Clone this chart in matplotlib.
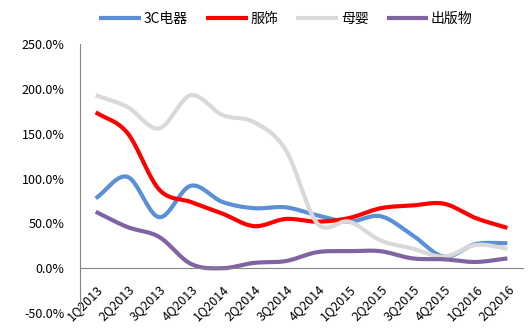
import numpy as np
import matplotlib.pyplot as plt
from matplotlib.ticker import FuncFormatter

plt.rcParams['font.family'] = ['Noto Sans CJK SC', 'DejaVu Sans']

quarters = ['1Q2013', '2Q2013', '3Q2013', '4Q2013', '1Q2014', '2Q2014', '3Q2014',
            '4Q2014', '1Q2015', '2Q2015', '3Q2015', '4Q2015', '1Q2016', '2Q2016']

# growth rates, percent
electronics = [78, 102, 57, 92, 74, 67, 68, 59, 52, 58, 37, 13, 27, 28]
apparel = [174, 151, 88, 74, 61, 47, 55, 52, 56, 67, 70, 72, 56, 45]
baby = [193, 180, 156, 193, 171, 163, 132, 50, 52, 31, 22, 13, 26, 22]
books = [63, 46, 35, 5, 0, 6, 8, 18, 19, 19, 11, 10, 7, 11]

names = ['3C电器', '服饰', '母婴', '出版物']
colors = ['#5B8FD6', '#FF0000', '#D9D9D9', '#8064A2']


def smooth(y, n=20):
    # Catmull-Rom curve through the points, like Excel's smoothed line
    y = np.asarray(y, dtype=float)
    x = np.arange(len(y), dtype=float)
    px = np.concatenate([[2 * x[0] - x[1]], x, [2 * x[-1] - x[-2]]])
    py = np.concatenate([[2 * y[0] - y[1]], y, [2 * y[-1] - y[-2]]])
    xs, ys = [], []
    t = np.linspace(0, 1, n, endpoint=False)
    for i in range(1, len(px) - 2):
        for p, out in ((px, xs), (py, ys)):
            p0, p1, p2, p3 = p[i - 1], p[i], p[i + 1], p[i + 2]
            out.append(0.5 * (2 * p1 + (-p0 + p2) * t
                              + (2 * p0 - 5 * p1 + 4 * p2 - p3) * t ** 2
                              + (-p0 + 3 * p1 - 3 * p2 + p3) * t ** 3))
    xs.append([x[-1]])
    ys.append([y[-1]])
    return np.concatenate(xs), np.concatenate(ys)


fig = plt.figure(figsize=(5.29, 3.32), dpi=100)
ax = fig.add_axes([0.151, 0.057, 0.838, 0.81])

for vals, name, c in zip([electronics, apparel, baby, books], names, colors):
    sx, sy = smooth(vals)
    ax.plot(sx, sy, color=c, lw=3, label=name, solid_capstyle='butt')

ax.set_xlim(-0.5, len(quarters) - 0.5)
ax.set_ylim(-50, 250)
ax.set_yticks(np.arange(-50, 251, 50))
ax.yaxis.set_major_formatter(FuncFormatter(lambda v, p: f'{v:.1f}%'))
ax.set_xticks(range(len(quarters)))
ax.set_xticklabels(quarters)

for s in ['top', 'right']:
    ax.spines[s].set_visible(False)
ax.spines['left'].set_color('#868686')
ax.spines['bottom'].set_color('#868686')
ax.spines['bottom'].set_position(('data', 0))
ax.tick_params(axis='y', length=0, labelsize=9, pad=11)
ax.tick_params(axis='x', length=0, labelsize=9, pad=10)
plt.setp(ax.get_xticklabels(), rotation=45, ha='right', va='top',
         rotation_mode='anchor')

ax.legend(loc='center', bbox_to_anchor=(0.465, 1.093), ncol=4, frameon=False,
          fontsize=10, handlelength=3.0, handletextpad=0.2, columnspacing=1.3)

fig.savefig('out.png', dpi=100)
